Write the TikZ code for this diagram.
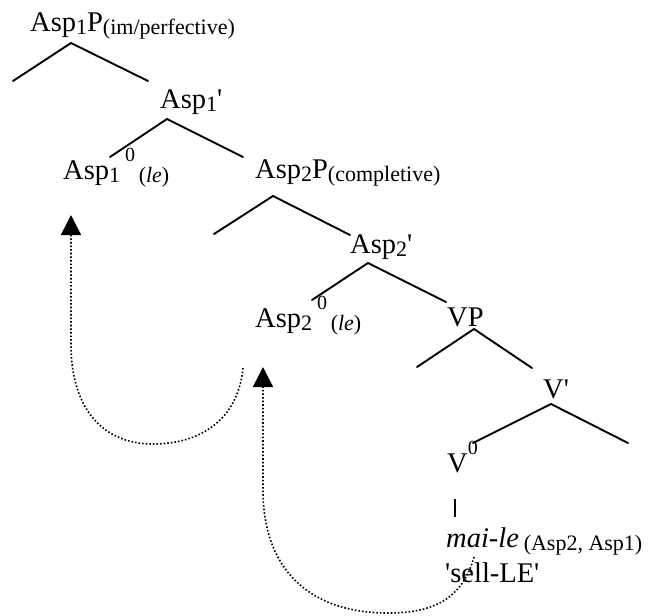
\documentclass[tikz,border=0pt]{standalone}
\usepackage{fontspec}
\setmainfont{Liberation Serif}
\usetikzlibrary{arrows.meta}

% small text for subscripts and annotations
\newcommand\smtxt[1]{{\fontsize{22}{24}\selectfont #1}}
\newcommand\lowsub[1]{\raisebox{-3pt}{\smtxt{#1}}}
\newcommand\zerosup{\raisebox{18pt}{{\fontsize{20}{22}\selectfont 0}}}

\tikzset{
  lbl/.style={inner sep=0pt, anchor=base west, font=\fontsize{28.5}{30}\selectfont},
  branch/.style={line width=1.9pt, line cap=round},
  movement/.style={line width=1.6pt, dotted, -{Triangle[width=20pt,length=20pt]}}
}

\begin{document}
\begin{tikzpicture}[x=1pt, y=-1pt]
\useasboundingbox (0,0) rectangle (652,615);

% labels
\node[lbl] (asp1p) at (30,32)  {Asp\lowsub{1}P\lowsub{(im/perfective)}};
\node[lbl] (asp1b) at (160,108) {Asp\lowsub{1}\textquotesingle};
\node[lbl] (asp1h) at (63,179) {Asp\lowsub{1}\hspace{5pt}\zerosup\lowsub{\,(\textit{le})}};
\node[lbl] (asp2p) at (255,178) {Asp\lowsub{2}P\lowsub{(completive)}};
\node[lbl] (asp2b) at (350,253) {Asp\lowsub{2}\textquotesingle};
\node[lbl] (asp2h) at (255,327) {Asp\lowsub{2}\hspace{5pt}\zerosup\lowsub{\,(\textit{le})}};
\node[lbl] (vp)    at (447,326) {VP};
\node[lbl] (vbar)  at (543,398) {V\textquotesingle};
\node[lbl] (vzero) at (447,472) {V\zerosup};
\node[lbl] (verb)  at (446,547) {\textit{mai-le}\,\lowsub{(Asp2, Asp1)}};
\node[lbl] (gloss) at (445,582) {\textquotesingle sell-LE\textquotesingle};

% branching points and branch ends
\coordinate (a1p)  at (71,43);   \coordinate (a1pL) at (13,81);   \coordinate (a1pR) at (148,81);
\coordinate (a1b)  at (167,119); \coordinate (a1bL) at (110,157); \coordinate (a1bR) at (243,157);
\coordinate (a2p)  at (273,196); \coordinate (a2pL) at (214,234); \coordinate (a2pR) at (350,235);
\coordinate (a2b)  at (368,263); \coordinate (a2bL) at (312,300); \coordinate (a2bR) at (446,302);
\coordinate (vpt)  at (474,329); \coordinate (vpL)  at (417,367); \coordinate (vpR)  at (532,368);
\coordinate (vbt)  at (551,404); \coordinate (vbL)  at (473,443); \coordinate (vbR)  at (628,443);
\coordinate (stemT) at (455,499); \coordinate (stemB) at (455,517);

% tree branches
\draw[branch] (a1pL) -- (a1p) -- (a1pR);
\draw[branch] (a1bL) -- (a1b) -- (a1bR);
\draw[branch] (a2pL) -- (a2p) -- (a2pR);
\draw[branch] (a2bL) -- (a2b) -- (a2bR);
\draw[branch] (vpL) -- (vpt) -- (vpR);
\draw[branch] (vbL) -- (vbt) -- (vbR);
\draw[line width=1.9pt] (stemT) -- (stemB);

% head movement paths
\coordinate (m1start) at (243,368);
\coordinate (m1tip)   at (71,215);
\draw[movement] (m1start) .. controls (238,420) and (200,444) .. (153,444)
  .. controls (100,444) and (71,405) .. (71,345) -- (m1tip);

\coordinate (m2start) at (474,557);
\coordinate (m2tip)   at (263,367);
\draw[movement] (m2start) .. controls (462,600) and (432,613) .. (388,613)
  .. controls (310,613) and (263,570) .. (263,490) -- (m2tip);
\end{tikzpicture}
\end{document}
